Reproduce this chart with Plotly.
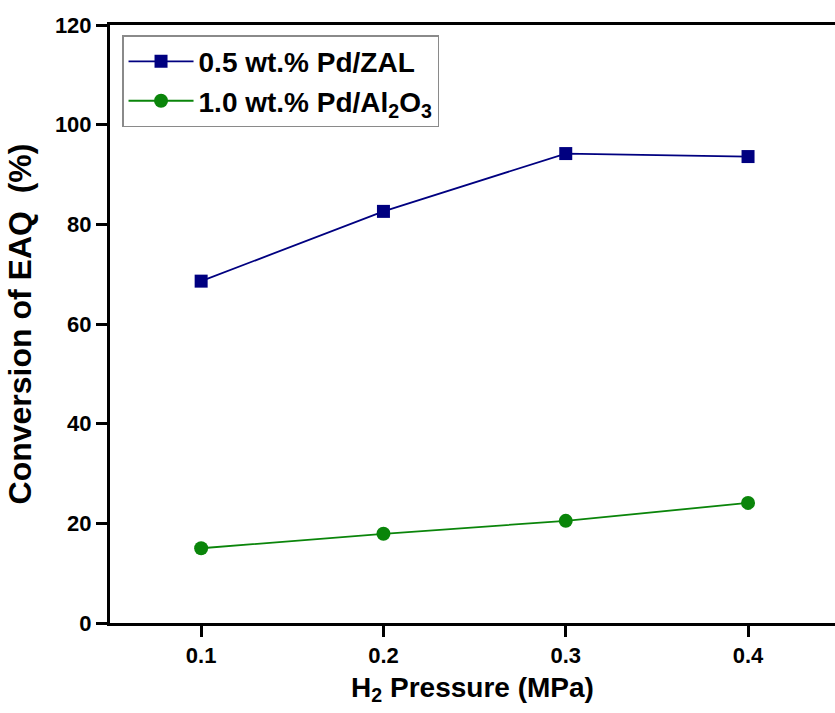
import plotly.graph_objects as go

pressure = [0.1, 0.2, 0.3, 0.4]
conv_zal = [68.6, 82.6, 94.2, 93.6]
conv_al2o3 = [15.0, 17.9, 20.5, 24.1]
name_zal = "0.5 wt.% Pd/ZAL"
name_al = "1.0 wt.% Pd/Al<sub>2</sub>O<sub>3</sub>"
x_ticks = [0.1, 0.2, 0.3, 0.4]
y_ticks = [0, 20, 40, 60, 80, 100, 120]

FONT = "Liberation Sans, Arial, sans-serif"

fig = go.Figure()
fig.add_trace(go.Scatter(
    x=pressure, y=conv_zal, name=name_zal, mode="lines+markers",
    line=dict(color="#000080", width=1.8),
    marker=dict(symbol="square", size=13, color="#000080"),
))
fig.add_trace(go.Scatter(
    x=pressure, y=conv_al2o3, name=name_al, mode="lines+markers",
    line=dict(color="#0a850a", width=1.8),
    marker=dict(symbol="circle", size=14, color="#0a850a"),
))

fig.update_layout(
    width=835, height=713,
    margin=dict(l=110, r=0, t=25, b=90),
    plot_bgcolor="white", paper_bgcolor="white",
    font=dict(family=FONT, color="black"),
    showlegend=True,
    legend=dict(
        x=0.0166, y=0.983, xanchor="left", yanchor="top",
        bordercolor="#8a8a8a", borderwidth=1.5, bgcolor="white",
        font=dict(size=28, family=FONT, color="black", weight="bold"),
        itemwidth=65, tracegroupgap=0,
    ),
    xaxis=dict(
        range=[0.05, 0.4477], tickvals=x_ticks, ticktext=[f"{v:.1f}" for v in x_ticks],
        showline=True, linecolor="black", linewidth=3, mirror=True,
        ticks="outside", ticklen=11, tickwidth=2.5, tickcolor="black",
        showgrid=False, zeroline=False,
        tickfont=dict(size=22, family=FONT, weight="bold"),
        title=dict(text="H<sub>2</sub> Pressure (MPa)",
                   font=dict(size=28, family=FONT, weight="bold"), standoff=10),
    ),
    yaxis=dict(
        range=[0, 120], tickvals=y_ticks,
        showline=True, linecolor="black", linewidth=3, mirror=False,
        ticks="outside", ticklen=11, tickwidth=2.5, tickcolor="black",
        showgrid=False, zeroline=False,
        tickfont=dict(size=22, family=FONT, weight="bold"),
        title=dict(text="Conversion of EAQ  (%)",
                   font=dict(size=32, family=FONT, weight="bold"), standoff=14),
    ),
)

fig.write_html("out.html")
